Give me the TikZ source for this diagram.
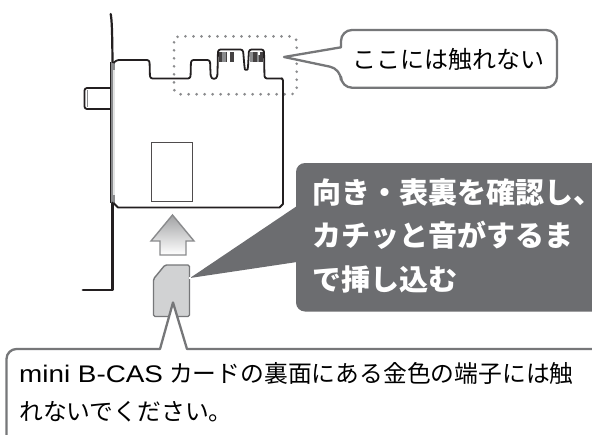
\documentclass[tikz,border=0pt]{standalone}
\usepackage{fontspec}
\newfontfamily\jpfont{Noto Sans CJK JP}
\newfontfamily\latinfont[FakeStretch=1.16]{Liberation Sans}
\definecolor{calloutgrey}{HTML}{6C6D70}
\definecolor{linegrey}{HTML}{767779}
\definecolor{inkblack}{HTML}{231F20}
\definecolor{cardgrey}{HTML}{D1D2D3}
\definecolor{bargrey}{HTML}{8A8B8D}
\tikzset{
  x=1pt,y=-1pt,
  board/.style={draw=inkblack,line width=1.8pt,line join=round,rounded corners=2.5pt},
  calloutline/.style={draw=linegrey,line width=2.3pt,fill=white,line join=round},
  label/.style={inner sep=0pt,anchor=base west,align=left,text=black},
}
\begin{document}
\begin{tikzpicture}
\useasboundingbox (0,0) rectangle (592,434);
\clip (0,0) rectangle (592,434);
\fill[white] (0,0) rectangle (592,434);
% dotted region
\draw[draw=bargrey,line width=2.9pt,line cap=round,dash pattern=on 0pt off 8pt,rounded corners=6pt] (174,36.3) rectangle (296.7,94.3);
% bracket
\fill[bargrey] (110.5,62) rectangle (114.5,203);
\fill[cardgrey!60!white] (113,70) rectangle (114.5,195);
\draw[inkblack,line width=2.2pt,line cap=round] (110.7,14) .. controls (111.8,20) and (112.2,30) .. (112.5,62);
\draw[inkblack,line width=1.4pt] (110.7,62) -- (110.7,203);
\draw[inkblack,line width=2.8pt,line join=round,line cap=round] (112.5,203) -- (112.5,290) -- (83,290);
% front connector
\draw[inkblack,line width=1.8pt,rounded corners=2.5pt] (110.5,88) -- (84.5,88) -- (84.5,109) -- (110.5,109);
\draw[bargrey,line width=1pt] (87,90) -- (87,107);
% board outline
\draw[board] (113.5,63) -- (116.5,60) -- (149.5,60) -- (150,78.5) -- (190.5,78.5) -- (191,60) -- (210,60) -- (210.5,73)
  .. controls (211,80) and (217,80) .. (217.5,73) -- (218,49.5) -- (243,49.5) -- (244.5,67)
  .. controls (245,70) and (247.5,70) .. (248,67) -- (249,49.5) -- (264,49.5) -- (264.5,78.5) -- (282.5,78.5);
\draw[inkblack,line width=1.8pt,line join=round] (281,78.5) .. controls (282.5,78.5) and (283,79) .. (283,81) -- (283,204) -- (279.5,207.5) -- (118,207.5) -- (113.5,203);
% contacts
\fill[inkblack!85!white] (218.5,52) rectangle (222,62);
\fill[bargrey] (222,52) rectangle (226,62);
\fill[inkblack!85!white] (226,52) rectangle (227,62);
\fill[inkblack!85!white] (230,52) rectangle (234,62);
\fill[bargrey] (249.5,52) rectangle (253,62);
\fill[inkblack!85!white] (253,52) rectangle (257,62);
\fill[bargrey] (257,52) rectangle (259,62);
\fill[inkblack!85!white] (259,52) rectangle (263,62);
\fill[white] (257.5,52) rectangle (259.5,54.5);
% socket
\draw[draw=inkblack!80!white,line width=1pt] (151.5,142.5) rectangle (192,201.5);
% arrow
\draw[draw=bargrey,line width=1.4pt,top color=bargrey!80!white,bottom color=white,line join=miter]
  (172.5,215) -- (194,241) -- (186,241) -- (186,255) -- (160,255) -- (160,241) -- (151,241) -- cycle;
% card
\draw[draw=linegrey,line width=1.4pt,fill=cardgrey,line join=round,rounded corners=1.5pt]
  (165,265) -- (189.5,265) -- (189.5,316.5) -- (153.5,316.5) -- (153.5,279) -- cycle;
% dark callout
\fill[calloutgrey,rounded corners=9pt] (296,163) rectangle (620,311.5);
\fill[calloutgrey] (190,278) -- (297,206) -- (297,262) -- cycle;
\fill[white] (189,276.5) rectangle (191,279);
\node[label,text=white,font=\jpfont\bfseries\fontsize{29}{43.5}\selectfont] (actiontext) at (312,290) {向き・表裏を確認し\rlap{、}\\カチッと音がするま\\で挿し込む};
% top callout
\draw[calloutline] (284,57) -- (341,47.3) [rounded corners=11pt] -- (341,30) -- (557,30) -- (557,87.7) -- (341,87.7) -- (341,69) [sharp corners] -- cycle;
\node[label,font=\jpfont\fontsize{24}{24}\selectfont] (warntop) at (352,68) {ここには触れない};
% bottom callout
\draw[calloutline] (6.5,450) [rounded corners=10pt] -- (6.5,349) [sharp corners] -- (160,349) -- (173,302.5) -- (187,349) -- (600,349) -- (600,450) -- cycle;
\node[label,font=\jpfont\fontsize{23.8}{38.5}\selectfont] (warnbottom) at (19,420.5) {{\latinfont\fontsize{24}{38.5}\selectfont mini B-CAS}\hspace{6pt}カードの裏面にある金色の端子には触\\れないでください。};
\end{tikzpicture}
\end{document}
